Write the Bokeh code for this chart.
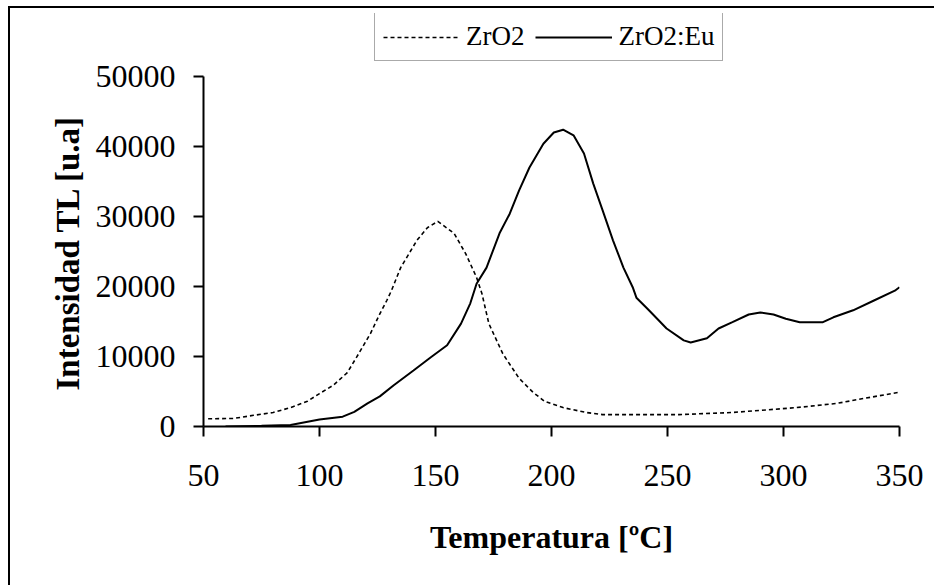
from bokeh.plotting import figure
from bokeh.models import FixedTicker, Range1d, Title
from bokeh.embed import file_html
from bokeh.resources import INLINE

# ZrO2 (dashed)
temp_zro2 = [52, 63, 71.6, 80, 87.5, 94.8, 100, 106, 112, 116, 122, 126, 129, 131, 135, 142,
             146.5, 151, 158, 163, 167.7, 170, 173, 179, 186, 192, 197, 205, 215, 222, 255,
             278, 305.6, 323, 334.5, 350]
int_zro2 = [1100, 1150, 1600, 2000, 2700, 3600, 4700, 5900, 7700, 9900, 13300, 16100, 18000,
            19400, 22700, 26600, 28400, 29300, 27600, 24700, 21300, 19000, 14700, 10400, 6900,
            4900, 3600, 2700, 2000, 1700, 1700, 2000, 2700, 3300, 4000, 4900]

# ZrO2:Eu (solid)
temp_eu = [59.5, 75, 87.5, 100, 110, 115, 120.7, 126, 132, 140.5, 148, 155, 161, 165, 167.7,
           172, 177.6, 182, 186, 190.5, 196.5, 201, 205, 209.5, 214, 218, 222, 226.5, 231,
           235, 236.6, 242, 249.6, 257, 260, 267, 272, 278, 285, 290, 295.7, 301, 307, 317,
           321.5, 330, 339, 348, 350]
int_eu = [0, 100, 200, 1000, 1400, 2100, 3300, 4300, 5900, 8000, 9900, 11600, 14700, 17600,
          20400, 22700, 27600, 30400, 33700, 37000, 40400, 42000, 42400, 41600, 39000, 34700,
          30900, 26600, 22700, 19900, 18400, 16600, 14000, 12300, 12000, 12600, 14000, 14900,
          16000, 16300, 16000, 15400, 14900, 14900, 15600, 16600, 18000, 19400, 19900]

x_ticks = [50, 100, 150, 200, 250, 300, 350]
y_ticks = [0, 10000, 20000, 30000, 40000, 50000]

FONT = "Liberation Serif"

# frame extends above 50000 so the legend (outside the axes area) is not clipped
p = figure(width=926, height=579, output_backend="svg", toolbar_location=None,
           x_range=Range1d(50, 350), y_range=Range1d(0, 59000),
           min_border_left=193, min_border_right=37, min_border_top=5, min_border_bottom=161,
           styles={"border-top": "2px solid black", "border-left": "2px solid black",
                   "margin-top": "6px", "margin-left": "8px"})

p.line(temp_zro2, int_zro2, line_color="black", line_width=1.6, line_dash="4 3",
       legend_label="ZrO2")
p.line(temp_eu, int_eu, line_color="black", line_width=2, legend_label="ZrO2:Eu")

p.outline_line_color = None
p.grid.visible = False

for ax in (p.xaxis[0], p.yaxis[0]):
    ax.axis_line_color = "black"
    ax.axis_line_width = 2
    ax.major_tick_line_color = "black"
    ax.major_tick_line_width = 2
    ax.major_tick_in = 0
    ax.major_tick_out = 10
    ax.minor_tick_line_color = None
    ax.major_label_text_font = FONT
    ax.major_label_text_font_size = "32px"
    ax.major_label_text_color = "black"
    ax.axis_label_text_font = FONT
    ax.axis_label_text_font_style = "bold"
    ax.axis_label_text_font_size = "32px"
    ax.axis_label_text_color = "black"

p.xaxis.bounds = (50, 350)
p.yaxis.bounds = (0, 50000)
p.xaxis.ticker = FixedTicker(ticks=x_ticks)
p.yaxis.ticker = FixedTicker(ticks=y_ticks)
p.xaxis.axis_label = "Temperatura [ºC]"
p.xaxis.major_label_standoff = 28
p.yaxis.major_label_standoff = 18
p.xaxis.axis_label_standoff = 30

# y axis title, placed to be centred on the 0..50000 axis span
ytitle = Title(text="Intensidad TL [u.a]", align="left", offset=36, standoff=13,
               text_font=FONT, text_font_style="bold", text_font_size="33px",
               text_color="black")
p.add_layout(ytitle, "left")

lg = p.legend[0]
lg.orientation = "horizontal"
lg.location = (171, 365)
lg.label_text_font = FONT
lg.label_text_font_size = "27px"
lg.label_text_color = "black"
lg.glyph_width = 77
lg.label_standoff = 6
lg.spacing = 11
lg.padding = 8
lg.margin = 0
lg.border_line_color = "#555555"
lg.border_line_width = 1.5
lg.background_fill_alpha = 1

open("out.html", "w").write(file_html(p, INLINE))
